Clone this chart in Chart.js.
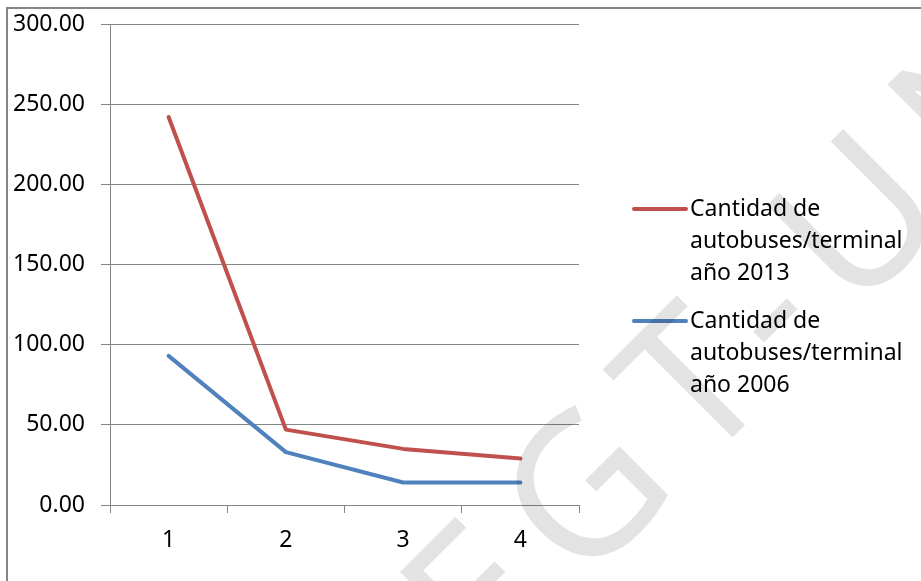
<!DOCTYPE html>
<html>
<head>
<meta charset="utf-8">
<script src="https://cdn.jsdelivr.net/npm/chart.js@4"></script>
<style>
  html, body { margin: 0; padding: 0; background: #fff; }
  #wrap { width: 921px; height: 581px; position: relative; }
</style>
</head>
<body>
<div id="wrap"><canvas id="grafica"></canvas></div>
<script>
// Datos
const categorias = ['1', '2', '3', '4'];
const buses2013 = [242, 47, 35, 29];
const buses2006 = [93, 33, 14, 14];
const etiqueta2013 = ['Cantidad de', 'autobuses/terminal', 'año 2013'];
const etiqueta2006 = ['Cantidad de', 'autobuses/terminal', 'año 2006'];
const marcaAgua = 'EGT-UN';

const fuente = '"Noto Sans", sans-serif';
const gris = '#868686';

// fondo blanco + marco gris
const fondo = {
  id: 'fondo',
  beforeDraw(chart) {
    const ctx = chart.ctx;
    ctx.save();
    ctx.fillStyle = '#fff';
    ctx.fillRect(0, 0, chart.width, chart.height);
    ctx.strokeStyle = gris;
    ctx.lineWidth = 2;
    ctx.beginPath();
    ctx.moveTo(7, chart.height + 2);
    ctx.lineTo(7, 8);
    ctx.lineTo(chart.width + 2, 8);
    ctx.stroke();
    ctx.restore();
  }
};

// leyenda a la derecha, con etiquetas de varias lineas
const leyenda = {
  id: 'leyenda',
  afterDraw(chart) {
    const ctx = chart.ctx;
    ctx.save();
    ctx.font = '23px ' + fuente;
    ctx.textBaseline = 'middle';
    chart.data.datasets.forEach((ds, i) => {
      const y = 209 + i * 112;
      ctx.strokeStyle = ds.borderColor;
      ctx.lineWidth = 4;
      ctx.lineCap = 'round';
      ctx.beginPath();
      ctx.moveTo(634, y);
      ctx.lineTo(686, y);
      ctx.stroke();
      ctx.fillStyle = '#000';
      ds.label.forEach((linea, j) => ctx.fillText(linea, 690, y + j * 32));
    });
    ctx.restore();
  }
};

// marca de agua diagonal
const agua = {
  id: 'agua',
  afterDraw(chart) {
    const ctx = chart.ctx;
    ctx.save();
    ctx.translate(400, 572);
    ctx.rotate(-Math.PI / 4);
    ctx.font = '196px ' + fuente;
    ctx.letterSpacing = '26px';
    ctx.fillStyle = 'rgba(0,0,0,0.11)';
    ctx.textBaseline = 'alphabetic';
    ctx.fillText(marcaAgua, -19, 140);
    ctx.restore();
  }
};

new Chart(document.getElementById('grafica'), {
  type: 'line',
  data: {
    labels: categorias,
    datasets: [
      { label: etiqueta2013, data: buses2013, borderColor: '#C0504D', backgroundColor: '#C0504D' },
      { label: etiqueta2006, data: buses2006, borderColor: '#4F81BD', backgroundColor: '#4F81BD' }
    ]
  },
  options: {
    responsive: true,
    maintainAspectRatio: false,
    animation: false,
    events: [],
    layout: { padding: { left: 0, top: 24, right: 342, bottom: 0 } },
    elements: {
      line: { borderWidth: 4, tension: 0, borderCapStyle: 'round', borderJoinStyle: 'round', fill: false },
      point: { radius: 0 }
    },
    plugins: {
      legend: { display: false },
      tooltip: { enabled: false }
    },
    scales: {
      x: {
        offset: true,
        afterFit: s => { s.height = 76; },
        grid: { offset: true, drawOnChartArea: false, drawTicks: true, tickLength: 8, color: gris, lineWidth: 1 },
        border: { color: gris, width: 1 },
        ticks: { color: '#000', font: { family: fuente, size: 23 }, padding: 14, maxRotation: 0 }
      },
      y: {
        min: 0,
        max: 300,
        afterFit: s => { s.width = 110; s.paddingTop = 0; s.paddingBottom = 0; },
        grid: { color: gris, lineWidth: 1, tickLength: 9 },
        border: { color: gris, width: 1 },
        ticks: {
          stepSize: 50,
          color: '#000',
          font: { family: fuente, size: 23, lineHeight: 1 },
          padding: 16,
          callback: v => v.toFixed(2)
        }
      }
    }
  },
  plugins: [fondo, leyenda, agua]
});
</script>
</body>
</html>
